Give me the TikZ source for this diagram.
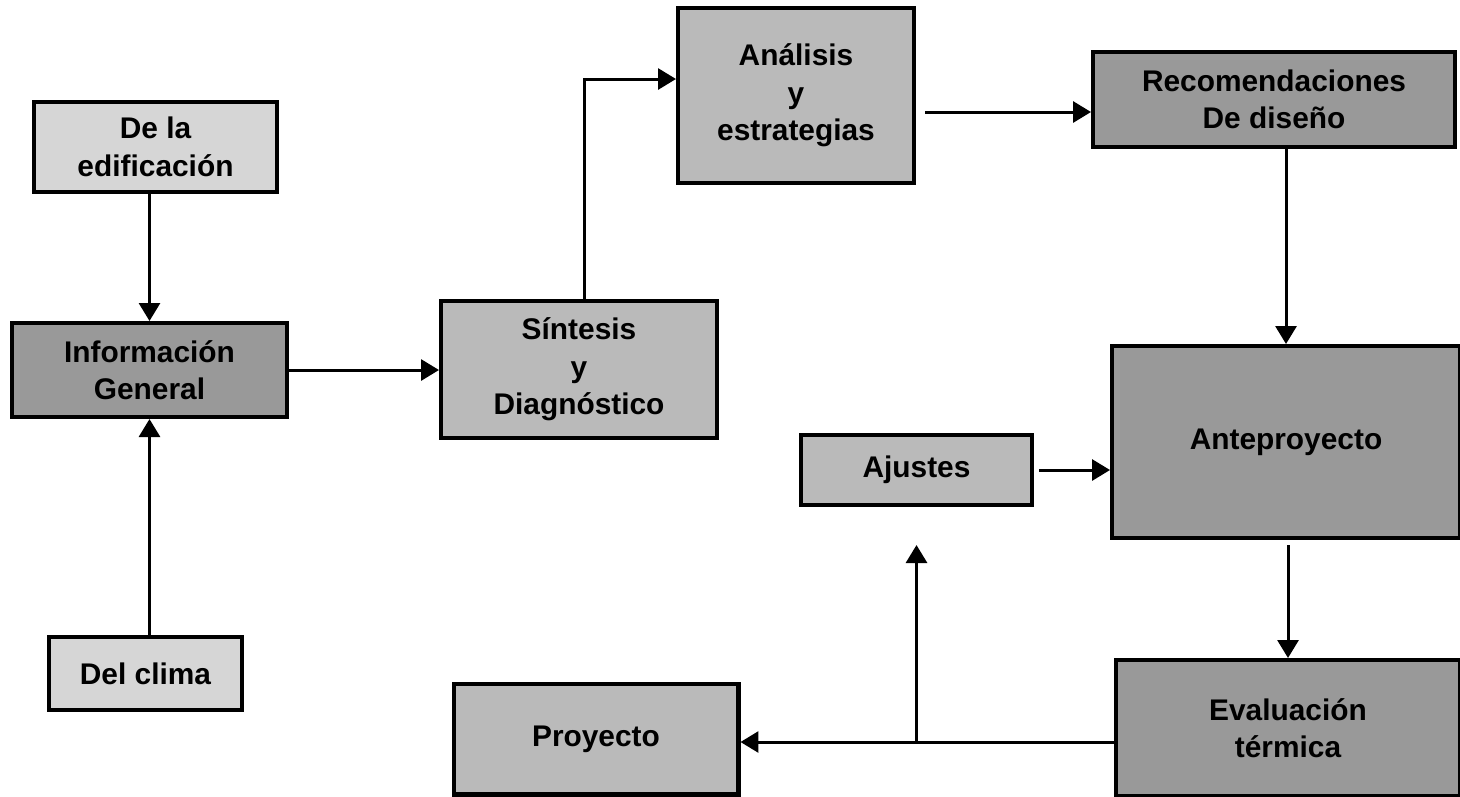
\documentclass[tikz,border=0pt]{standalone}
\usepackage{fontspec}
\setmainfont{Liberation Sans}
\usepackage{tikz}
\usetikzlibrary{shapes}
\usetikzlibrary{positioning}
\usetikzlibrary{arrows.meta}
\tikzset{
    cellb/.style = {rectangle, draw=black, line width=2.3pt, inner sep=0pt, align=center,
                    font=\fontsize{17}{21.3}\selectfont\bfseries},
    cellw/.style = {cellb, fill=black!16},  % light
    cellm/.style = {cellb, fill=black!27},  % medium
    celld/.style = {cellb, fill=black!40},  % dark
    edgen/.style = {-{Triangle[length=0.36cm,width=0.42cm]}, line width=1.7pt},
}

\begin{document}
\begin{tikzpicture}[x=0.02cm,y=-0.02cm]
\useasboundingbox (0,0) rectangle (1460,796);

\node[cellw, minimum width=4.86cm, minimum height=1.80cm] at (155.5, 147.0) (edif) {De la\\edificación};
\node[celld, minimum width=5.50cm, minimum height=1.88cm] at (149.5, 370.0) (info) {Información\\General};
\node[cellw, minimum width=3.86cm, minimum height=1.46cm] at (145.5, 673.5) (clima) {Del clima};
\node[cellm, minimum width=5.52cm, minimum height=2.74cm] at (579.0, 369.5) (sint) {Síntesis\\y\\Diagnóstico};
\node[cellm, minimum width=4.72cm, minimum height=3.50cm] at (796.0, 95.5) (anal) {Análisis\\y\\estrategias};
\node[celld, minimum width=7.24cm, minimum height=1.90cm] at (1274.0, 99.5) (recom) {Recomendaciones\\De diseño};
\node[celld, minimum width=6.96cm, minimum height=3.84cm] at (1286.0, 442.0) (ante) {Anteproyecto};
\node[cellm, minimum width=4.62cm, minimum height=1.40cm] at (916.5, 470.0) (ajus) {Ajustes};
\node[celld, minimum width=6.88cm, minimum height=2.72cm] at (1288.0, 728.0) (eval) {Evaluación\\térmica};
\node[cellm, minimum width=5.70cm, minimum height=2.22cm] at (596.0, 739.0) (proy) {Proyecto};
%
\coordinate (sOut) at ([xshift=0.1cm]sint.north);
\coordinate (aIn) at ([yshift=0.33cm]anal.west);
\coordinate (rIn) at ([yshift=-0.25cm]recom.west);
\coordinate (pIn) at ([yshift=-0.06cm]proy.east);
\coordinate (jn) at (ajus.south |- pIn);
%
\draw[edgen] (edif.south -| info) -- (info.north);
\draw[edgen] (clima.north -| info) -- (info.south);
\draw[edgen] (info.east) -- (info.east -| sint.west);
\draw[edgen] (sOut) |- (aIn);
\draw[edgen, shorten <=0.18cm] (anal.east |- rIn) -- (rIn);
\draw[edgen] (recom.south -| ante) -- (ante.north);
\draw[edgen, shorten <=0.1cm] (ajus.east) -- (ajus.east -| ante.west);
\draw[edgen, shorten <=0.1cm] (ante.south -| eval) -- (eval.north);
\draw[edgen] (eval.west |- pIn) -- (pIn);
\draw[edgen, shorten >=0.76cm] (jn) -- (ajus.south);

\end{tikzpicture}
\end{document}
